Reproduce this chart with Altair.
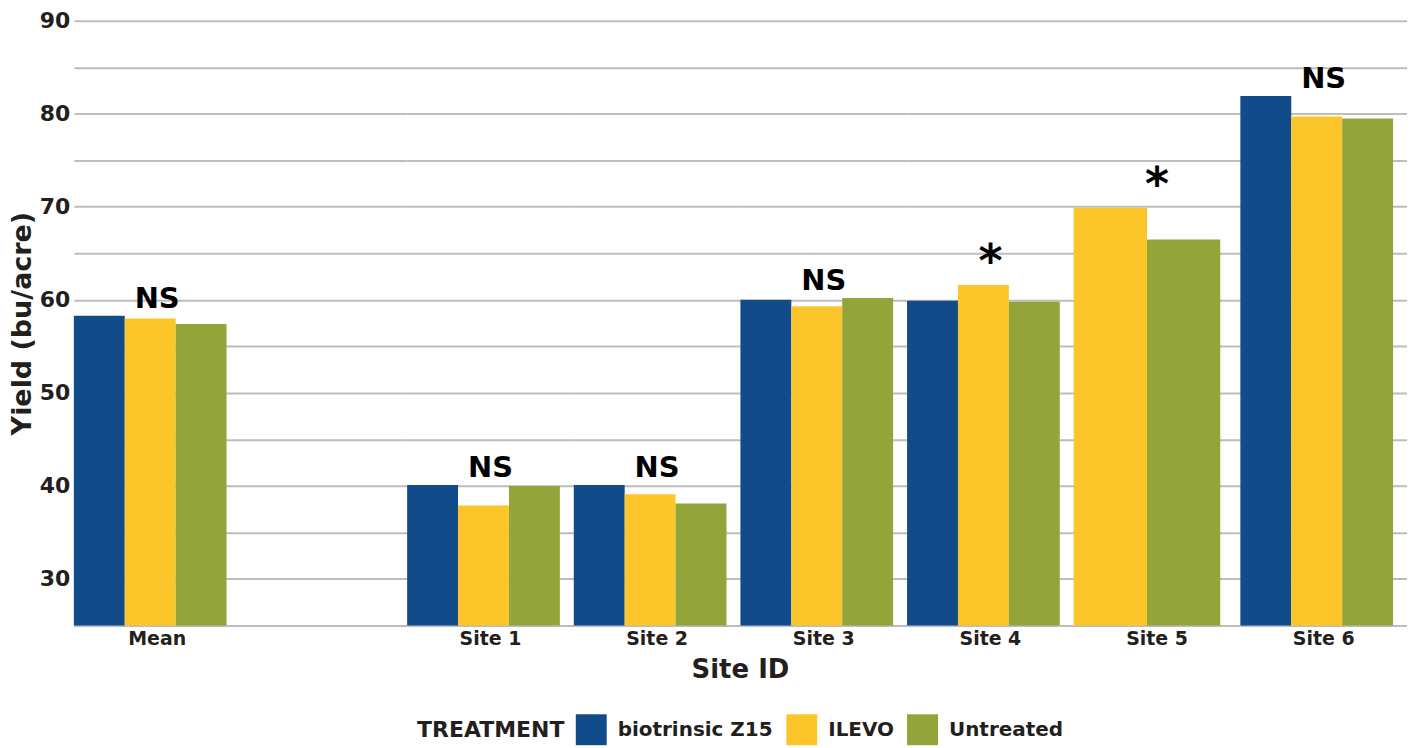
import altair as alt
import pandas as pd

sites = ["Mean", " ", "Site 1", "Site 2", "Site 3", "Site 4", "Site 5", "Site 6"]
treatments = ["biotrinsic Z15", "ILEVO", "Untreated"]
biotrinsic = [58.3, None, 40.1, 40.1, 60.0, 59.9, None, 81.9]
ilevo = [58.0, None, 37.9, 39.1, 59.3, 61.6, 69.9, 79.7]
untreated = [57.4, None, 40.0, 38.1, 60.2, 59.8, 66.5, 79.5]
significance = ["NS", "", "NS", "NS", "NS", "*", "*", "NS"]
colors = ["#114b8a", "#fcc62b", "#93a43b"]

rows = []
for i, s in enumerate(sites):
    vals = [biotrinsic[i], ilevo[i], untreated[i]]
    present = [(t, v) for t, v in zip(treatments, vals) if v is not None]
    if not present:
        rows.append({"site": s, "treatment": treatments[0], "yield": None, "sig": significance[i]})
    for t, v in present:
        rows.append({"site": s, "treatment": t, "yield": v, "sig": significance[i]})
df = pd.DataFrame(rows)

FONT = "DejaVu Sans"
TXT = "#231f20"

y_scale = alt.Scale(domain=[25, 90], nice=False, zero=False, clamp=True)

bars = alt.Chart().mark_bar(width={"band": 1}).encode(
    x=alt.X("treatment:N", sort=treatments, axis=None,
            scale=alt.Scale(paddingInner=0, paddingOuter=0.137, align=0)),
    y=alt.Y("yield:Q", scale=y_scale, title="Yield (bu/acre)",
            axis=alt.Axis(values=list(range(25, 91, 5)),
                          labelExpr="datum.value % 10 == 0 ? datum.label : ''")),
    color=alt.Color("treatment:N", sort=treatments,
                    scale=alt.Scale(domain=treatments, range=colors),
                    legend=alt.Legend(title="TREATMENT", orient="none", direction="horizontal",
                                      titleOrient="left", legendX=344, legendY=695)),
)

labels = alt.Chart().mark_text(baseline="alphabetic", dy=-8, font=FONT,
                               fontWeight="bold", color="black").encode(
    y=alt.Y("max(yield):Q", scale=y_scale),
    text="sig:N",
    size=alt.condition("datum.sig == '*'", alt.value(46), alt.value(29)),
)

chart = alt.layer(bars, labels, data=df).properties(width=167, height=606).facet(
    column=alt.Column("site:N", sort=sites,
                      header=alt.Header(labelOrient="bottom", titleOrient="bottom",
                                        title="Site ID", labelFont=FONT, labelFontSize=19,
                                        labelFontWeight="bold", labelColor=TXT, labelPadding=5,
                                        titleFont=FONT, titleFontSize=26, titleFontWeight="bold",
                                        titleColor=TXT, titlePadding=-2)),
    spacing=0,
).resolve_scale(x="independent").properties(
    title=alt.TitleParams("Soy Seed Treatment Trials 2023 and 2024 Results", fontSize=46,
                          font=FONT, fontWeight="bold", color=TXT, anchor="middle", offset=12),
    padding={"left": 0, "right": 0, "top": -58, "bottom": 0},
).configure_view(stroke=None).configure_axisY(
    labelFont=FONT, labelFontSize=22, labelFontWeight="bold", labelColor=TXT, labelPadding=4,
    titleFont=FONT, titleFontSize=27, titleFontWeight="bold", titleColor=TXT, titlePadding=3,
    ticks=False, domain=False, gridColor="#bdbdbd", gridWidth=2,
).configure_legend(
    labelFont=FONT, labelFontSize=20, labelFontWeight="bold", labelColor=TXT,
    titleFont=FONT, titleFontSize=22, titleFontWeight="bold", titleColor=TXT,
    symbolType="square", symbolSize=961, symbolStrokeWidth=0, symbolOpacity=1,
    columnPadding=13, labelOffset=11, titlePadding=11,
)

chart.save("out.html", embed_options={"renderer": "svg", "actions": False})
